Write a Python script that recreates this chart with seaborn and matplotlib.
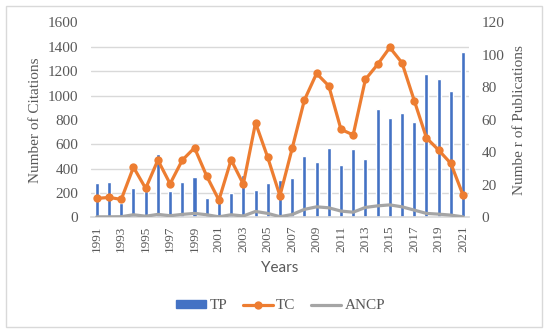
import numpy as np
import pandas as pd
import matplotlib
matplotlib.use("Agg")
import matplotlib.pyplot as plt
import seaborn as sns
from matplotlib.patches import Rectangle
from matplotlib.lines import Line2D

# ------------------------------
# Data
# ------------------------------
years = list(range(1991, 2022))
tp = [21, 22, 9, 18, 16, 39, 16, 22, 25, 12, 10, 15, 26, 17, 21, 23,
      24, 38, 34, 43, 32, 42, 36, 67, 61, 64, 59, 88, 85, 78, 102]
tc = [156, 164, 148, 412, 238, 470, 276, 470, 571, 339, 142, 472, 273, 776, 492, 177,
      566, 962, 1181, 1079, 722, 677, 1132, 1255, 1394, 1268, 959, 653, 552, 443, 183]
ancp = [5, 5, 6, 22, 10, 25, 14, 25, 33, 22, 5, 22, 12, 49, 33, 6,
        24, 66, 87, 79, 52, 43, 82, 95, 103, 87, 60, 33, 27, 19, 5]

df = pd.DataFrame({"year": [str(y) for y in years], "pos": np.arange(len(years)),
                   "TP": tp, "TC": tc, "ANCP": ancp})

blue = "#4472C4"
orange = "#ED7D31"
gray = "#A5A5A5"
grid_c = "#D9D9D9"
txt_c = "#595959"

sns.set_theme(style="white")
plt.rcParams['font.family'] = ['Liberation Serif', 'DejaVu Serif']

fig = plt.figure(figsize=(5.5, 3.34), dpi=100)
ax = fig.add_axes([0.165, 0.349, 0.688, 0.584])

# bars (publications) on the main axes, shown on the right
sns.barplot(data=df, x="year", y="TP", color=blue, width=0.33, saturation=1,
            ax=ax, zorder=2)
ax2 = ax.twinx()

ax.set_ylim(0, 120)
ax.set_xlim(-0.5, len(years) - 0.5)
ax.set_yticks(np.arange(0, 121, 20))
ax.set_yticks(np.arange(0, 121, 15), minor=True)
ax.set_yticklabels([], minor=True)
ax.grid(which="minor", axis="y", color=grid_c, lw=1, zorder=0)
ax.grid(which="major", visible=False)
ax.yaxis.tick_right()
ax.yaxis.set_label_position("right")
ax.set_ylabel("Numbe r of Publications", fontsize=11, color=txt_c, labelpad=6)
ax.tick_params(axis="y", which="both", length=0, labelsize=11, labelcolor=txt_c, pad=9)

ax.set_xticks(np.arange(0, len(years), 2))
ax.set_xticklabels([str(y) for y in years[::2]], rotation=90, fontsize=9.5, color=txt_c)
ax.tick_params(axis="x", length=0, pad=6)
ax.set_xlabel("Years", fontsize=11, color=txt_c, family=["Lato", "DejaVu Sans"], labelpad=6)
for s in ["top", "left", "right"]:
    ax.spines[s].set_visible(False)
ax.spines["bottom"].set_color(grid_c)

# lines (citations) on the twin axes, shown on the left
sns.lineplot(data=df, x="pos", y="ANCP", color=gray, lw=2.3, ax=ax2)
sns.lineplot(data=df, x="pos", y="TC", color=orange, lw=2.3, marker="o",
             markersize=6, markeredgewidth=0, ax=ax2)
ax2.set_ylim(0, 1600)
ax2.set_xlim(-0.5, len(years) - 0.5)
ax2.set_yticks(np.arange(0, 1601, 200))
ax2.yaxis.tick_left()
ax2.yaxis.set_label_position("left")
ax2.set_ylabel("Number of Citations", fontsize=11, color=txt_c, labelpad=4)
ax2.tick_params(axis="y", length=0, labelsize=11, labelcolor=txt_c, pad=9)
ax2.set_xlabel("")
for s in ax2.spines.values():
    s.set_visible(False)

# legend
handles = [Rectangle((0, 0), 1, 1, color=blue),
           Line2D([], [], color=orange, lw=2.3, marker="o", markersize=6, markeredgewidth=0),
           Line2D([], [], color=gray, lw=2.3)]
leg = fig.legend(handles, ["TP", "TC", "ANCP"], loc="center", bbox_to_anchor=(0.51, 0.084),
                 ncol=3, frameon=False, fontsize=11, handlelength=2.0, handleheight=0.5,
                 columnspacing=1.0, handletextpad=0.2)
for t in leg.get_texts():
    t.set_color(txt_c)

# chart border
fig.patches.append(Rectangle((0.011, 0.02), 0.975, 0.963, transform=fig.transFigure,
                             fill=False, edgecolor=grid_c, lw=1))

fig.savefig("out.png", dpi=100)
